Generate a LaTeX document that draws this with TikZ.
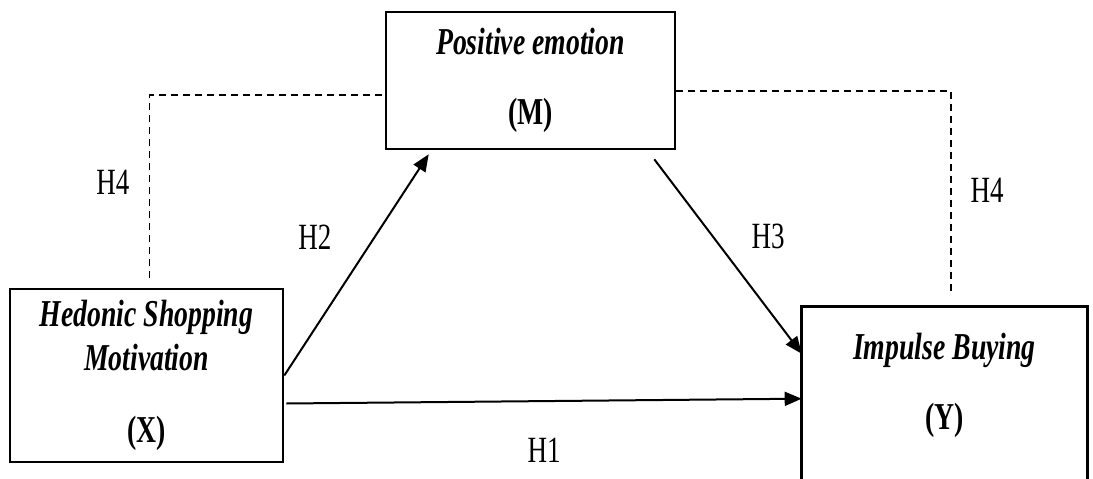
\documentclass[tikz,border=0pt]{standalone}
\usepackage{fontspec}
\setmainfont[FakeStretch=0.73]{Liberation Serif}
\usetikzlibrary{arrows.meta, calc}
\tikzset{
    >={Triangle[length=17pt, width=14pt]},
    % Boxes
    var/.style={rectangle, draw, line width=2.6pt, align=center, inner sep=0pt,
                font=\fontsize{38}{44}\selectfont},
    % Flow & Labels
    link/.style={->, line width=2pt},
    mediate/.style={dash pattern=on 7pt off 5pt, line width=1.6pt},
    hyp/.style={inner sep=0pt, font=\fontsize{37}{44}\selectfont}
}

\begin{document}
\begin{tikzpicture}[x=1pt, y=-1pt]
\useasboundingbox (0,0) rectangle (1093,479);
\coordinate (floor) at (0,479);

\node[var, minimum width=289pt, minimum height=137pt] (posemo) at (530.5,80.5)
    {\textbf{\textit{Positive emotion}}\\[26pt]\textbf{(M)}};
\node[var, minimum width=273pt, minimum height=173pt] (hedonic) at (146.5,375.5)
    {\textbf{\textit{Hedonic Shopping}}\\\textbf{\textit{Motivation}}\\[28pt]\textbf{(X)}};
\node[var, draw=none, minimum width=283pt, minimum height=154pt] (impulse) at (944.5,385)
    {\textbf{\textit{Impulse Buying}}\\[26pt]\textbf{(Y)}};
% open box, runs off the page
\draw[line width=2.6pt] (impulse.south west |- floor) |- (impulse.north east) -- (impulse.east |- floor);

\draw[link] (hedonic.east) -- ($(posemo.south west)+(44,4)$);
\draw[link] ($(posemo.south east)+(-22,9)$) -- ($(impulse.north west)+(0,47)$);
\draw[link] ($(hedonic.east)+(2,28)$) -- ($(impulse.north west)+(0,92)$);

\draw[mediate] ($(hedonic.north)+(3,-10)$) |- ($(posemo.west)+(0,14.5)$);
\draw[mediate] ($(posemo.east)+(0,10.5)$) -| ($(impulse.north)+(6.5,-16)$);

\node[hyp] (h4l) at (113,182) {H4};
\node[hyp] (h4r) at (987,190) {H4};
\node[hyp] (h2) at (315,237) {H2};
\node[hyp] (h3) at (768,236) {H3};
\node[hyp] (h1) at (544,450) {H1};

\end{tikzpicture}
\end{document}
